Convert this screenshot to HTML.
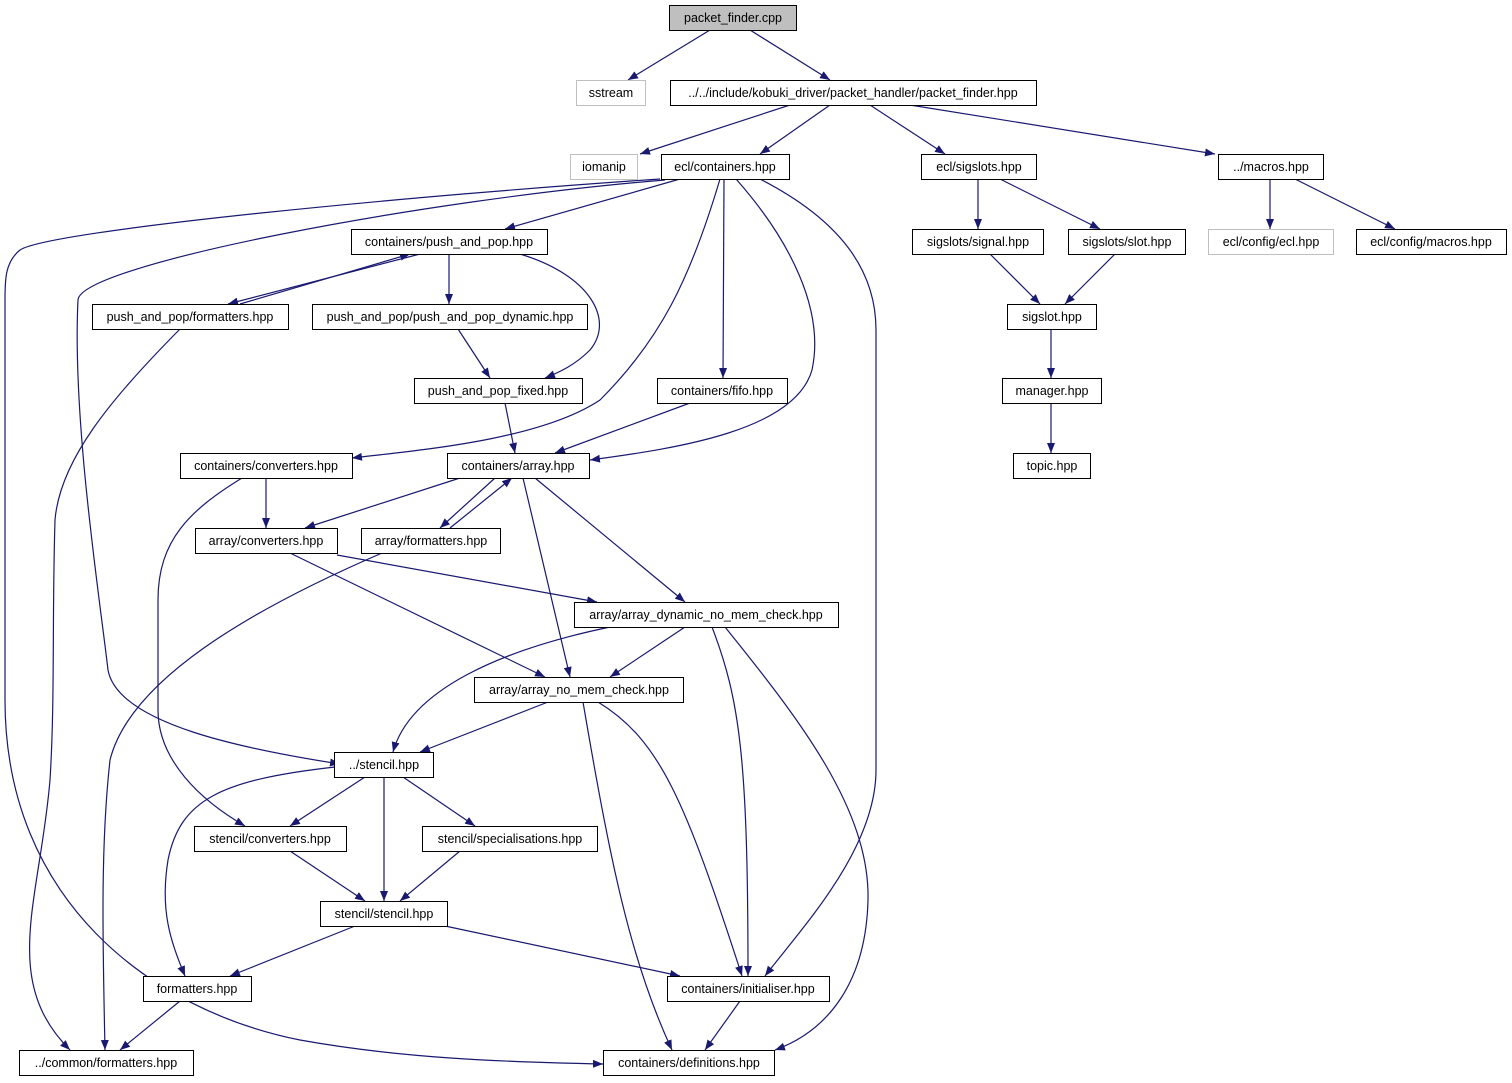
<!DOCTYPE html>
<html><head><meta charset="utf-8"><style>
html,body{margin:0;padding:0;background:#fff;width:1512px;height:1083px;overflow:hidden}
svg text{font-family:"Liberation Sans",sans-serif;font-size:12.5px;text-anchor:middle;fill:#000}
</style></head><body>
<svg width="1512" height="1083" xmlns="http://www.w3.org/2000/svg">
<defs><marker id="a" markerWidth="11" markerHeight="8" refX="10" refY="4" orient="auto" markerUnits="userSpaceOnUse"><path d="M0,0 L10,4 L0,8 z" fill="#191970"/></marker></defs>
<g fill="none" stroke="#191970" stroke-width="1.2" marker-end="url(#a)">
<path d="M710,30 L628,80"/>
<path d="M750,30 L830,80"/>
<path d="M790,105 L640,154"/>
<path d="M830,105 L760,154"/>
<path d="M870,105 L945,154"/>
<path d="M910,105 L1215,154"/>
<path d="M680,179 L505,229"/>
<path d="M665,180 C420,200 80,265 78,300 C72,420 100,600 108,670 C118,725 250,750 340,764"/>
<path d="M660,179 C420,195 50,230 20,250 C5,262 5,280 5,300 L5,700 C5,900 150,1010 300,1040 C400,1058 500,1062 603,1064"/>
<path d="M720,179 C690,280 660,340 600,400 C540,440 420,450 352,458"/>
<path d="M724,179 L723,378"/>
<path d="M736,179 C790,240 825,310 812,370 C795,430 680,448 590,460"/>
<path d="M760,179 C840,220 876,270 876,330 L876,770 C876,850 800,930 765,976"/>
<path d="M420,254 L228,304"/>
<path d="M240,304 L410,254"/>
<path d="M449,254 L449,304"/>
<path d="M520,254 C590,275 615,320 590,350 C575,365 560,372 545,378"/>
<path d="M180,329 C110,400 60,460 55,520 C52,620 55,700 50,780 C40,900 0,980 70,1050"/>
<path d="M458,329 L490,378"/>
<path d="M505,403 L515,453"/>
<path d="M690,403 L555,453"/>
<path d="M266,478 L266,528"/>
<path d="M242,478 C190,510 158,540 158,600 L158,710 C158,760 200,800 245,826"/>
<path d="M460,478 L305,528"/>
<path d="M495,478 L440,528"/>
<path d="M450,528 L512,478"/>
<path d="M535,478 L685,602"/>
<path d="M523,478 L570,677"/>
<path d="M290,553 L545,677"/>
<path d="M337,555 L597,602"/>
<path d="M382,553 C250,610 130,680 110,760 C100,850 103,950 105,1050"/>
<path d="M610,627 C500,650 410,690 393,752"/>
<path d="M685,627 L610,677"/>
<path d="M712,627 C740,700 748,760 748,976"/>
<path d="M725,627 C800,720 870,810 868,900 C866,980 830,1030 775,1050"/>
<path d="M548,702 L420,752"/>
<path d="M583,702 C610,860 630,960 672,1050"/>
<path d="M598,702 C660,740 685,800 742,976"/>
<path d="M365,777 L290,826"/>
<path d="M384,777 L384,901"/>
<path d="M403,777 L475,826"/>
<path d="M335,767 C220,780 180,800 168,860 C160,910 170,940 185,976"/>
<path d="M290,851 L365,901"/>
<path d="M460,851 L400,901"/>
<path d="M355,926 L230,976"/>
<path d="M445,926 L680,976"/>
<path d="M180,1001 L120,1050"/>
<path d="M740,1001 L705,1050"/>
<path d="M978,179 L978,229"/>
<path d="M1000,179 L1100,229"/>
<path d="M1270,179 L1270,229"/>
<path d="M1295,179 L1395,229"/>
<path d="M990,254 L1040,304"/>
<path d="M1115,254 L1065,304"/>
<path d="M1051,329 L1051,378"/>
<path d="M1051,403 L1051,453"/>
</g>
<g stroke="#000" stroke-width="1" fill="#fff">
<rect x="669.5" y="5.5" width="127" height="25" fill="#bfbfbf"/>
<rect x="576.5" y="80.5" width="69" height="25" stroke="#bfbfbf"/>
<rect x="670.5" y="80.5" width="366" height="25"/>
<rect x="570.5" y="154.5" width="67" height="25" stroke="#bfbfbf"/>
<rect x="661.5" y="154.5" width="128" height="25"/>
<rect x="921.5" y="154.5" width="115" height="25"/>
<rect x="1218.5" y="154.5" width="105" height="25"/>
<rect x="351.5" y="229.5" width="196" height="25"/>
<rect x="912.5" y="229.5" width="131" height="25"/>
<rect x="1068.5" y="229.5" width="117" height="25"/>
<rect x="1208.5" y="229.5" width="125" height="25" stroke="#bfbfbf"/>
<rect x="1356.5" y="229.5" width="150" height="25"/>
<rect x="92.5" y="304.5" width="196" height="25"/>
<rect x="312.5" y="304.5" width="275" height="25"/>
<rect x="1007.5" y="304.5" width="89" height="25"/>
<rect x="414.5" y="378.5" width="168" height="25"/>
<rect x="657.5" y="378.5" width="130" height="25"/>
<rect x="1002.5" y="378.5" width="99" height="25"/>
<rect x="180.5" y="453.5" width="172" height="25"/>
<rect x="447.5" y="453.5" width="142" height="25"/>
<rect x="1013.5" y="453.5" width="77" height="25"/>
<rect x="195.5" y="528.5" width="142" height="25"/>
<rect x="361.5" y="528.5" width="139" height="25"/>
<rect x="574.5" y="602.5" width="264" height="25"/>
<rect x="474.5" y="677.5" width="209" height="25"/>
<rect x="334.5" y="752.5" width="99" height="25"/>
<rect x="194.5" y="826.5" width="152" height="25"/>
<rect x="422.5" y="826.5" width="175" height="25"/>
<rect x="320.5" y="901.5" width="127" height="25"/>
<rect x="143.5" y="976.5" width="108" height="25"/>
<rect x="667.5" y="976.5" width="162" height="25"/>
<rect x="19.5" y="1050.5" width="174" height="25"/>
<rect x="603.5" y="1050.5" width="171" height="25"/>
</g>
<g>
<text x="733" y="22">packet_finder.cpp</text>
<text x="611" y="97">sstream</text>
<text x="853" y="97">../../include/kobuki_driver/packet_handler/packet_finder.hpp</text>
<text x="604" y="171">iomanip</text>
<text x="725" y="171">ecl/containers.hpp</text>
<text x="979" y="171">ecl/sigslots.hpp</text>
<text x="1271" y="171">../macros.hpp</text>
<text x="449" y="246">containers/push_and_pop.hpp</text>
<text x="978" y="246">sigslots/signal.hpp</text>
<text x="1127" y="246">sigslots/slot.hpp</text>
<text x="1271" y="246">ecl/config/ecl.hpp</text>
<text x="1431" y="246">ecl/config/macros.hpp</text>
<text x="190" y="321">push_and_pop/formatters.hpp</text>
<text x="450" y="321">push_and_pop/push_and_pop_dynamic.hpp</text>
<text x="1052" y="321">sigslot.hpp</text>
<text x="498" y="395">push_and_pop_fixed.hpp</text>
<text x="722" y="395">containers/fifo.hpp</text>
<text x="1052" y="395">manager.hpp</text>
<text x="266" y="470">containers/converters.hpp</text>
<text x="518" y="470">containers/array.hpp</text>
<text x="1052" y="470">topic.hpp</text>
<text x="266" y="545">array/converters.hpp</text>
<text x="431" y="545">array/formatters.hpp</text>
<text x="706" y="619">array/array_dynamic_no_mem_check.hpp</text>
<text x="579" y="694">array/array_no_mem_check.hpp</text>
<text x="384" y="769">../stencil.hpp</text>
<text x="270" y="843">stencil/converters.hpp</text>
<text x="510" y="843">stencil/specialisations.hpp</text>
<text x="384" y="918">stencil/stencil.hpp</text>
<text x="197" y="993">formatters.hpp</text>
<text x="748" y="993">containers/initialiser.hpp</text>
<text x="106" y="1067">../common/formatters.hpp</text>
<text x="689" y="1067">containers/definitions.hpp</text>
</g>
<g fill="#999" font-size="12.5">
</g>
</svg>
</body></html>
